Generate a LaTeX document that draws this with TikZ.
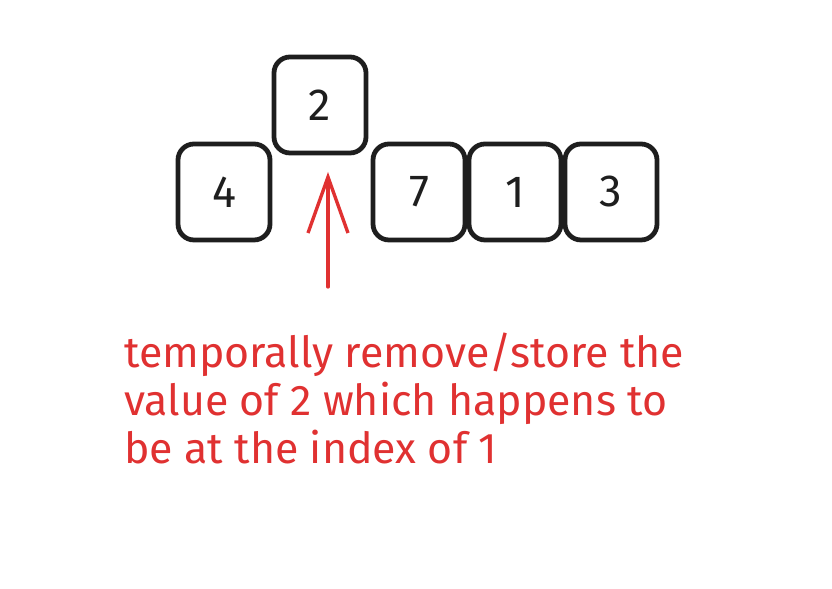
\documentclass[tikz,border=0pt]{standalone}
\usepackage{fontspec}
\setmainfont{Fira Sans}
\usetikzlibrary{shapes,arrows.meta}
\definecolor{ink}{HTML}{1E1E1E}
\definecolor{pen}{HTML}{E03131}
\tikzset{
  cell/.style={shape=rectangle,rounded corners=0.4cm,draw=ink,line width=3.4pt,minimum width=2.3cm,minimum height=2.4cm,inner sep=0pt,align=center,text=ink,font=\fontsize{32}{38}\selectfont},
  note/.style={align=left,anchor=north west,inner sep=0pt,text=pen,font=\fontsize{30.5}{34}\selectfont}
}
\begin{document}
\begin{tikzpicture}
\useasboundingbox (0,0) rectangle (20.8,14.725);
\node[cell] (0) at (5.6,9.925) {4};
\node[cell] (1) at (8.0,12.1) {2};
\node[cell] (2) at (10.475,9.925) {7};
\node[cell] (3) at (12.875,9.925) {1};
\node[cell] (4) at (15.275,9.925) {3};

\coordinate (5) at (8.2,7.55);
\coordinate (6) at (8.2,10.425);
\draw [-{Straight Barb[length=14mm,width=10mm]},draw=pen,line width=2.4pt,line cap=round] (5) -- (6);

\node[note] (7) at (3.1,6.4) {temporally remove/store the\\value of 2 which happens to\\be at the index of 1};
\end{tikzpicture}
\end{document}
